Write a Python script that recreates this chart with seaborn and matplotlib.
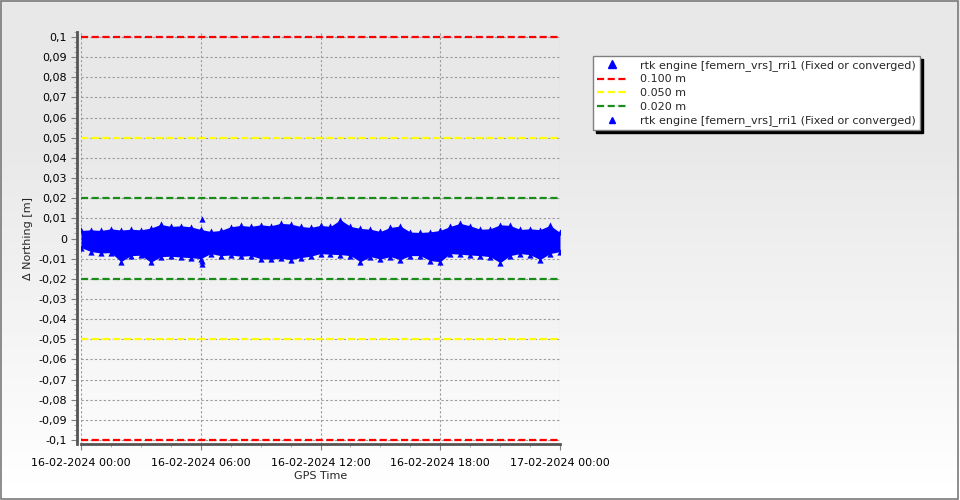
import numpy as np
import pandas as pd
import matplotlib
matplotlib.use("Agg")
import matplotlib.pyplot as plt
import matplotlib.dates as mdates
from matplotlib.lines import Line2D
from matplotlib.patches import Rectangle
from matplotlib.ticker import MultipleLocator, FuncFormatter, FixedLocator
import seaborn as sns

# half-hour steps over the day, envelope of the northing residuals (m)
hours = [0, 0.5, 1, 1.5, 2, 2.5, 3, 3.5, 4, 4.5, 5, 5.5, 6, 6.5, 7, 7.5, 8, 8.5,
         9, 9.5, 10, 10.5, 11, 11.5, 12, 12.5, 13, 13.5, 14, 14.5, 15, 15.5, 16,
         16.5, 17, 17.5, 18, 18.5, 19, 19.5, 20, 20.5, 21, 21.5, 22, 22.5, 23,
         23.5, 24]
upper_mm = [4.0, 4.3, 4.0, 4.8, 4.2, 4.6, 4.3, 5.2, 7.0, 6.0, 6.3, 5.8, 4.5, 3.5,
            4.0, 5.8, 6.5, 6.0, 6.8, 6.3, 7.5, 7.2, 6.0, 5.5, 6.5, 6.0, 9.3, 6.0,
            5.0, 4.6, 3.5, 5.5, 6.2, 3.2, 3.0, 3.3, 4.0, 6.0, 7.5, 6.3, 4.6, 4.8,
            6.8, 6.5, 4.5, 4.8, 4.4, 6.5, 3.0]
lower_mm = [-4.5, -6.5, -7.2, -7.0, -11.5, -8.5, -8.3, -11.8, -9.0, -8.8, -9.2,
            -9.5, -10.0, -7.5, -8.5, -8.2, -8.8, -8.5, -10.0, -10.3, -9.8, -10.5,
            -9.5, -8.8, -7.5, -7.8, -8.0, -8.5, -11.5, -9.0, -10.2, -9.0, -10.5,
            -8.5, -8.5, -11.0, -11.5, -7.5, -7.8, -8.2, -8.5, -9.0, -12.0, -8.5,
            -7.5, -8.0, -10.5, -7.5, -6.5]
# isolated outliers
spike_hours = [6.05, 6.05, 6.05]
spike_mm = [9.5, -12.8, -11.0]

limits = [0.100, 0.050, 0.020]
limit_colors = ["#ff0000", "#ffff00", "#1a8c1a"]
limit_labels = ["0.100 m", "0.050 m", "0.020 m"]
series_label = "rtk engine [femern_vrs]_rri1 (Fixed or converged)"
start = pd.Timestamp("2024-02-16 00:00")

t = start + pd.to_timedelta(hours, unit="h")
df = pd.DataFrame({"time": t,
                   "upper": np.array(upper_mm) / 1000.0,
                   "lower": np.array(lower_mm) / 1000.0})
spikes = pd.DataFrame({"time": start + pd.to_timedelta(spike_hours, unit="h"),
                       "value": np.array(spike_mm) / 1000.0})

sns.set_style("white")
plt.rcParams["font.family"] = ["DejaVu Sans"]
plt.rcParams["font.size"] = 8

fig = plt.figure(figsize=(9.6, 5), dpi=100)

# background gradient, gray at the top fading to white
bg = fig.add_axes([0, 0, 1, 1], zorder=-10)
rows = np.linspace(0, 1, 500)
shade = np.where(rows < 0.3, 0.91, 0.91 + (rows - 0.3) / 0.7 * 0.09)
grad = np.repeat(shade[:, None], 2, axis=1)
bg.imshow(grad, cmap="gray", vmin=0, vmax=1, aspect="auto",
          extent=[0, 1, 0, 1], origin="upper")
bg.axis("off")
fig.patches.append(Rectangle((0.001, 0.002), 0.997, 0.996, transform=fig.transFigure,
                             fill=False, edgecolor="#7a7a7a", lw=1.2))

ax = fig.add_axes([81 / 960, 1 - 444 / 500, 479 / 960, 412 / 500])
ax.set_facecolor("none")

for val, col in zip(limits, limit_colors):
    for sgn in (1, -1):
        ax.axhline(sgn * val, color=col, lw=1.6, dashes=(3.2, 1.6), zorder=3)

ax.fill_between(df["time"], df["lower"], df["upper"], color="#0000ff", lw=0, zorder=4)
for col in ("upper", "lower"):
    sns.scatterplot(data=df, x="time", y=col, marker="^", color="#0000ff",
                    s=20, linewidth=0, ax=ax, zorder=5)
sns.scatterplot(data=spikes, x="time", y="value", marker="^", color="#0000ff",
                s=20, linewidth=0, ax=ax, zorder=5)

ax.set_xlim(start, start + pd.Timedelta(hours=24))
ax.set_ylim(-0.102, 0.1025)

ax.xaxis.set_major_locator(mdates.HourLocator(byhour=[0, 6, 12, 18]))
ax.xaxis.set_major_formatter(mdates.DateFormatter("%d-%m-%Y %H:%M"))
minor_pos = mdates.date2num(pd.date_range(start, periods=17, freq="90min"))
ax.xaxis.set_minor_locator(FixedLocator(minor_pos))

def fmt(v, pos):
    s = f"{round(v, 3):.2f}".rstrip("0").rstrip(".")
    if s in ("-0", "0"):
        return "0"
    return s.replace(".", ",")

ax.yaxis.set_major_locator(MultipleLocator(0.01))
ax.yaxis.set_minor_locator(MultipleLocator(0.0025))
ax.yaxis.set_major_formatter(FuncFormatter(fmt))

ax.grid(True, which="major", color="#9a9a9a", lw=0.8, ls=(0, (2, 2)))
ax.tick_params(axis="both", which="major", direction="out", length=4,
               color="#808080", labelsize=8, labelcolor="black")
ax.tick_params(axis="both", which="minor", direction="out", length=2,
               color="#a0a0a0")
ax.tick_params(axis="y", which="both", left=True, pad=3)
ax.tick_params(axis="x", which="both", bottom=True, pad=6)

for side in ("top", "right"):
    ax.spines[side].set_visible(False)
for side in ("left", "bottom"):
    ax.spines[side].set_color("#555555")
    ax.spines[side].set_linewidth(2)
ax.spines["left"].set_position(("outward", 3))

ax.set_xlabel("GPS Time", fontsize=8, labelpad=2)
ax.set_ylabel("Δ Northing [m]", fontsize=8, labelpad=4)

handles = [Line2D([], [], ls="none", marker="^", color="#0000ff", markersize=6)]
for col, lab in zip(limit_colors, limit_labels):
    handles.append(Line2D([], [], color=col, lw=1.6, dashes=(3.2, 1.6)))
handles.append(Line2D([], [], ls="none", marker="^", color="#0000ff", markersize=4))
labels = [series_label] + limit_labels + [series_label]

leg = fig.legend(handles, labels, loc="upper left",
                 bbox_to_anchor=(593 / 960, 1 - 56 / 500), fontsize=8,
                 frameon=True, fancybox=False, shadow={"color": "black", "alpha": 1},
                 borderpad=0.35, labelspacing=0.33, handlelength=2.8,
                 handletextpad=1.1, borderaxespad=0)
leg.get_frame().set_edgecolor("#808080")
leg.get_frame().set_linewidth(1)
leg.get_frame().set_facecolor("white")

fig.savefig("out.png", dpi=100)
